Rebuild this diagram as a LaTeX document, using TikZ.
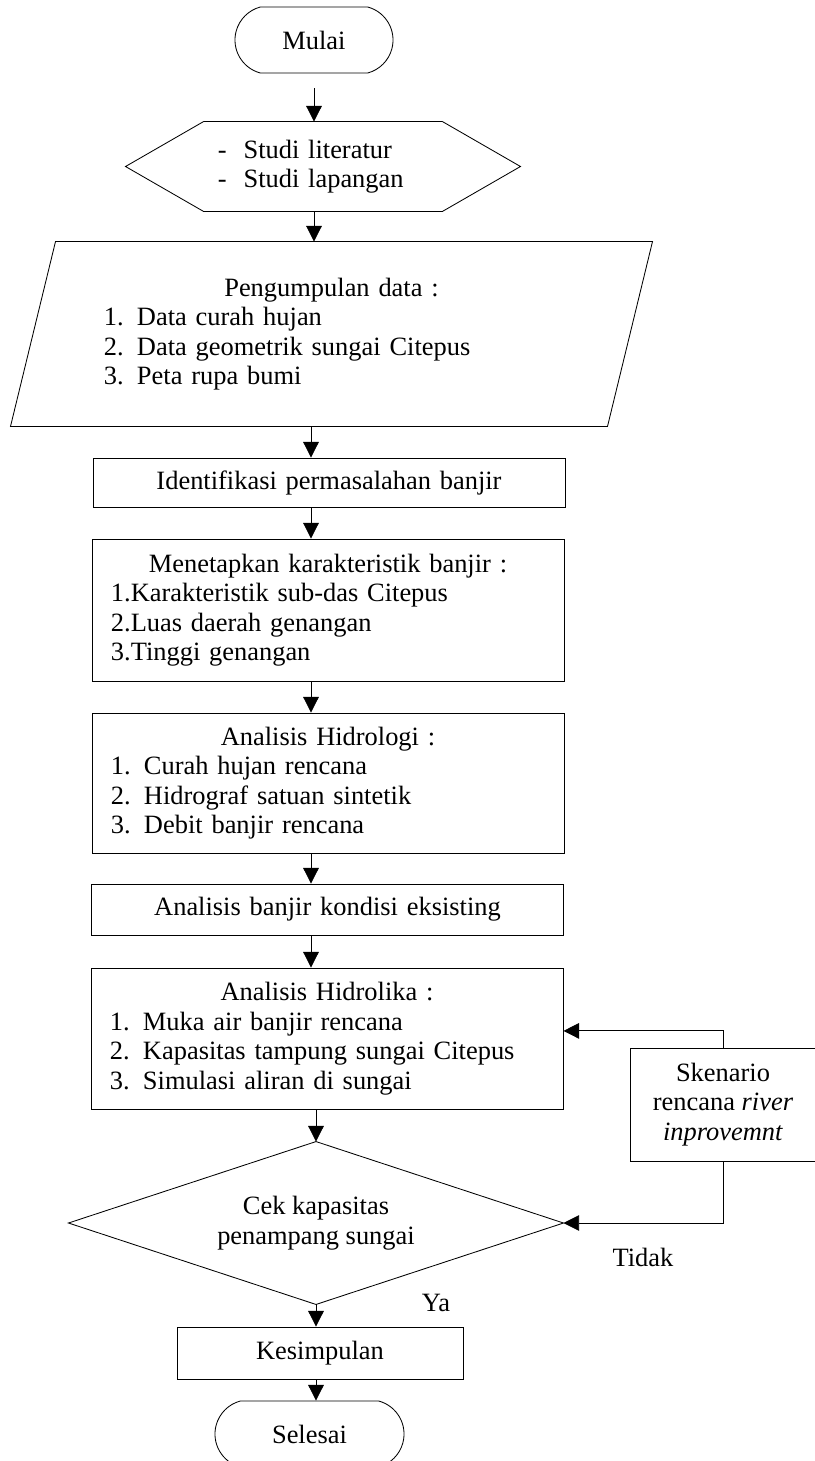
\documentclass[tikz,border=0pt]{standalone}
\usepackage{fontspec}
\setmainfont{Liberation Serif}
\usetikzlibrary{arrows.meta, shapes.geometric, shapes.misc}

\begin{document}
\begin{tikzpicture}[x=0.025cm, y=-0.025cm, line width=0.6pt,
    font=\fontsize{18.8}{21}\selectfont,
    every node/.style={inner sep=0pt},
    kotak/.style={draw, minimum width=11.8cm, text width=10.85cm, align=left},
    terminal/.style={draw, rounded rectangle, rounded rectangle arc length=150, minimum width=3.95cm, minimum height=1.65cm},
    panah/.style={-{Triangle[length=0.39cm, width=0.39cm]}}]
        \useasboundingbox (0,0) rectangle (815,1461); %画像の大きさ
        \coordinate (poros) at (311,0); %矢印の縦の線

        \node[terminal] (mulai) at (314,40) {Mulai}; %開始
        \node[minimum width=9.85cm, minimum height=2.225cm, text width=5.25cm, align=left] (studi) at (323,166.5) {-\hspace{0.42cm}Studi literatur\\-\hspace{0.42cm}Studi lapangan};
        \draw (studi.west) -- ([xshift=1.95cm]studi.north west) -- ([xshift=-1.95cm]studi.north east) -- (studi.east) -- ([xshift=-1.95cm]studi.south east) -- ([xshift=1.95cm]studi.south west) -- cycle; %六角形
        \node[minimum width=16.025cm, minimum height=4.6cm, text width=11.375cm, align=left] (data) at (331.5,334) {\makebox[\hsize]{Pengumpulan data :}\\1. Data curah hujan\\2. Data geometrik sungai Citepus\\3. Peta rupa bumi};
        \draw ([xshift=1.125cm]data.north west) -- (data.north east) -- ([xshift=-1.125cm]data.south east) -- (data.south west) -- cycle; %平行四辺形
        \node[kotak, minimum height=1.225cm, align=center] (ident) at (329,482.5) {Identifikasi permasalahan banjir};
        \node[kotak, minimum height=3.55cm] (karakter) at (328,610) {\makebox[\hsize]{Menetapkan karakteristik banjir :}\\1.Karakteristik sub-das Citepus\\2.Luas daerah genangan\\3.Tinggi genangan};
        \node[kotak, minimum height=3.5cm] (hidrologi) at (328,783) {\makebox[\hsize]{Analisis Hidrologi :}\\1. Curah hujan rencana\\2. Hidrograf satuan sintetik\\3. Debit banjir rencana};
        \node[kotak, minimum height=1.275cm, align=center] (eksisting) at (327.5,909.5) {Analisis banjir kondisi eksisting};
        \node[kotak, minimum height=3.525cm] (hidrolika) at (327,1038.5) {\makebox[\hsize]{Analisis Hidrolika :}\\1. Muka air banjir rencana\\2. Kapasitas tampung sungai Citepus\\3. Simulasi aliran di sungai};
        \node[minimum width=12.35cm, minimum height=4.05cm, align=center] (cek) at (316,1223) {Cek kapasitas\\penampang sungai};
        \draw (cek.north) -- (cek.east) -- (cek.south) -- (cek.west) -- cycle; %判定
        \node[draw, minimum width=7.15cm, minimum height=1.3cm] (simpul) at (320,1353) {Kesimpulan};
        \node[terminal, minimum width=4.725cm] (selesai) at (309.5,1434) {Selesai}; %終了
        \node[draw, minimum width=4.65cm, minimum height=2.825cm, align=center] (skenario) at (723,1104.5) {Skenario\\rencana \textit{river}\\\textit{inprovemnt}};
        \node (tidak) at (643,1257) {Tidak};
        \node (ya) at (436,1303) {Ya};

        \draw[panah, shorten <=0.375cm] (mulai.south) -- (mulai.south |- studi.north);
        \draw[panah] (studi.south -| mulai) -- (data.north -| mulai);
        \draw[panah] (data.south -| poros) -- (ident.north -| poros);
        \draw[panah] (ident.south -| poros) -- (karakter.north -| poros);
        \draw[panah] (karakter.south -| poros) -- (hidrologi.north -| poros);
        \draw[panah] (hidrologi.south -| poros) -- (eksisting.north -| poros);
        \draw[panah] (eksisting.south -| poros) -- (hidrolika.north -| poros);
        \draw[panah] (hidrolika.south -| cek) -- (cek.north);
        \draw[panah] (cek.south) -- (cek.south |- simpul.north);
        \draw[panah] (simpul.south -| cek) -- (cek |- selesai.north);
        \draw[panah] (skenario.north) |- ([yshift=0.19cm]hidrolika.east); %戻り
        \draw[panah] (skenario.south) |- (cek.east);
\end{tikzpicture}
\end{document}
